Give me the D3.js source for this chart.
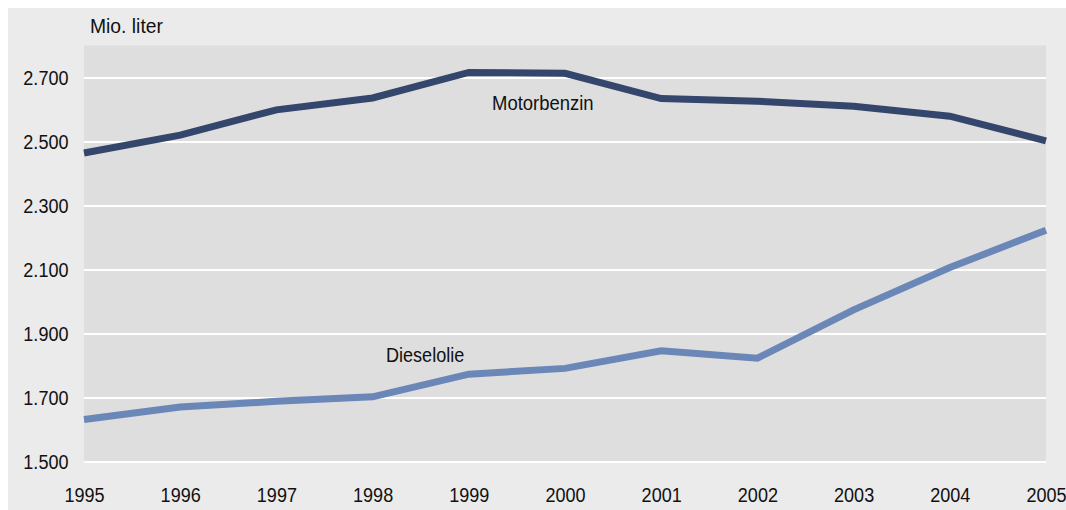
<!DOCTYPE html>
<html><head><meta charset="utf-8">
<script src="https://cdn.jsdelivr.net/npm/d3@7"></script>
<style>body{margin:0;background:#fff;} svg{display:block;} text{font-family:"Liberation Sans",Arial,sans-serif;fill:#111;}</style>
</head><body><svg id="c" width="1066" height="510"></svg>
<script>
const years = [1995,1996,1997,1998,1999,2000,2001,2002,2003,2004,2005];
const motorbenzin = [2464,2520,2599,2636,2716,2713,2634,2626,2610,2579,2502];
const dieselolie = [1631,1670,1688,1702,1773,1791,1846,1823,1974,2106,2223];
const yTicks = [1500,1700,1900,2100,2300,2500,2700];
const unitLabel = "Mio. liter";

const svg = d3.select("#c");
const W = 1066, H = 510;
const FS = "21px", SX = 0.86;
const x = d3.scaleLinear().domain([1995,2005]).range([84, 1046]);
const y = d3.scaleLinear().domain([1500,2800]).range([461.5, 45.5]);
const fmt = v => d3.format(",")(v).replace(/,/g,".");

svg.append("rect").attr("x",8).attr("y",8).attr("width",W-8).attr("height",H-8).attr("fill","#ebebeb");
svg.append("rect").attr("x",x(1995)).attr("y",y(2800)).attr("width",x(2005)-x(1995)).attr("height",y(1500)-y(2800)).attr("fill","#dedede");

const ya = svg.append("g").attr("transform",`translate(${x(1995)},0)`)
  .call(d3.axisLeft(y).tickValues(yTicks).tickFormat(fmt).tickSize(-(x(2005)-x(1995))).tickPadding(15.5/SX));
ya.select(".domain").remove();
ya.selectAll(".tick line").attr("stroke","#fff").attr("stroke-width",2.2);
ya.selectAll(".tick text").style("font-size",FS).attr("fill","#111").attr("transform",`scale(${SX},1)`);

const xa = svg.append("g").attr("transform",`translate(0,${y(1500)})`)
  .call(d3.axisBottom(x).tickValues(years).tickFormat(d3.format("d")).tickSize(0).tickPadding(25.5));
xa.select(".domain").remove();
xa.selectAll(".tick text").style("font-size",FS).attr("fill","#111").attr("transform",`scale(${SX},1)`);

function label(tx, ty, s, sx){
  svg.append("g").attr("transform",`translate(${tx},${ty}) scale(${sx},1)`)
    .append("text").style("font-size",FS).text(s);
}
label(90, 33, unitLabel, 0.92);

const line = d3.line().x((d,i)=>x(years[i])).y(d=>y(d));
svg.append("path").datum(motorbenzin).attr("d",line).attr("fill","none").attr("stroke","#34466b").attr("stroke-width",7);
svg.append("path").datum(dieselolie).attr("d",line).attr("fill","none").attr("stroke","#6b87b8").attr("stroke-width",7);

label(492, 110, "Motorbenzin", 0.88);
label(386, 362, "Dieselolie", 0.86);
</script></body></html>
